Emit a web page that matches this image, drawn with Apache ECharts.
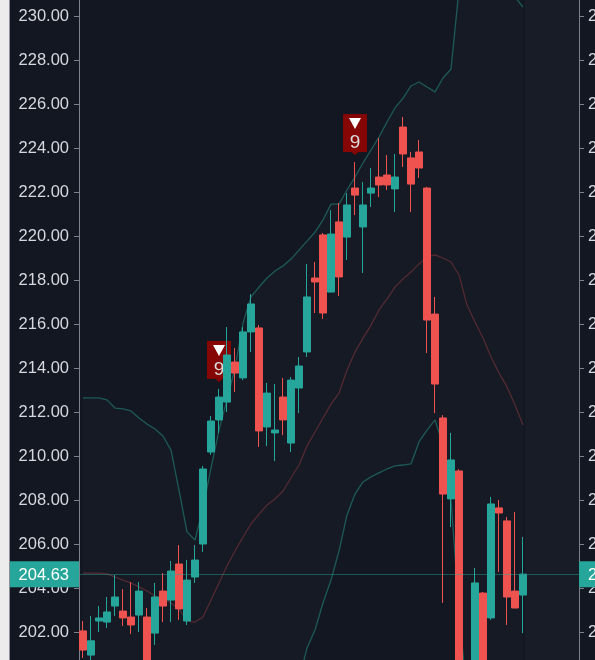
<!DOCTYPE html>
<html><head><meta charset="utf-8">
<script src="https://cdn.jsdelivr.net/npm/echarts@6/dist/echarts.min.js"></script>
<style>html,body{margin:0;padding:0;background:#131722}#c{width:595px;height:660px}</style>
</head><body><div id="c"></div>
<script>
const openV  = [202.05,200.95,202.50,202.45,203.18,202.95,202.68,202.77,202.68,201.95,203.86,203.45,205.09,202.50,204.50,206.00,210.18,211.64,212.45,214.27,213.55,215.64,215.82,211.32,211.05,212.68,210.59,213.09,214.73,218.09,220.05,217.45,220.64,219.95,222.18,220.41,221.95,222.68,222.77,222.14,224.95,223.55,223.82,222.18,216.45,211.73,208.05,209.32,200.00,200.30,203.77,202.64,207.64,207.05,203.86,203.68];
const closeV = [201.18,201.60,202.64,202.91,203.59,202.64,202.32,203.86,200.40,203.59,203.18,204.77,203.05,204.36,205.27,209.41,211.59,212.68,214.59,213.77,215.64,216.91,211.14,212.86,211.18,211.64,213.45,214.09,217.23,217.91,216.50,220.09,218.14,221.41,221.86,221.41,222.18,222.32,222.32,222.68,223.73,222.36,223.09,216.18,213.27,208.27,209.82,200.00,199.00,204.23,200.20,207.82,207.41,203.59,203.09,204.63];
const lowV   = [200.82,200.50,202.00,202.18,202.73,202.27,201.91,202.00,200.00,201.41,202.45,202.45,202.55,202.32,204.23,205.64,210.05,211.05,212.00,212.91,213.45,214.73,210.41,210.45,209.77,210.95,210.18,211.95,214.50,216.50,216.23,217.45,217.27,218.91,220.95,218.32,221.32,221.77,222.09,221.09,223.14,221.09,222.64,214.68,211.95,203.32,206.77,199.50,198.00,200.00,199.80,202.55,204.73,202.32,203.09,201.95];
const highV  = [202.50,202.73,203.18,203.59,204.59,203.95,204.27,204.27,203.09,204.23,204.68,205.23,205.95,205.27,205.95,209.55,211.82,213.05,215.86,214.91,215.86,217.36,215.95,213.32,213.27,213.55,213.59,214.50,218.73,218.82,220.14,221.18,221.50,221.95,223.36,222.45,223.09,224.45,223.68,223.73,225.41,223.82,224.36,222.23,217.23,211.86,211.05,209.40,200.50,204.91,203.82,208.14,208.00,207.23,207.45,206.32];
const upperBand  = [212.64,212.64,212.64,212.55,212.18,212.14,212.05,211.73,211.45,211.23,210.91,210.27,208.45,206.55,206.18,207.64,209.45,211.18,212.55,214.00,216.05,217.23,217.68,218.09,218.41,218.64,218.95,219.36,219.77,220.18,220.73,221.45,221.45,222.09,222.68,223.32,223.91,224.50,225.18,225.82,226.27,226.82,227.00,226.77,226.55,227.18,227.59,231.20,234.70,234.70,234.20,233.50,232.50,231.30,230.86,230.41];
const middleBand = [204.68,204.68,204.68,204.64,204.50,204.36,204.23,204.05,203.86,203.64,203.50,203.32,203.05,202.50,202.45,202.68,203.45,204.23,205.00,205.68,206.32,206.91,207.36,207.77,208.05,208.41,209.00,209.59,210.45,211.09,211.73,212.36,212.86,213.91,214.73,215.36,215.95,216.64,217.14,217.68,218.05,218.36,218.73,219.05,219.14,219.00,218.82,218.23,216.86,216.09,215.36,214.50,213.77,213.14,212.32,211.41];
const lowerBand  = [196.72,196.72,196.72,196.73,196.82,196.58,196.41,196.46,196.40,196.23,196.27,196.59,197.87,198.36,198.72,197.72,197.45,197.28,197.45,197.36,196.59,196.59,197.04,197.45,197.69,198.18,199.05,199.82,201.27,202.09,203.32,204.36,205.68,207.32,208.27,208.82,209.05,209.23,209.41,209.55,209.59,209.64,210.64,211.18,211.64,210.50,208.00,203.00,199.00,197.50,196.50,195.50,195.50,195.00,193.78,192.41];
const markerIdx  = [17, 34];
const markerText = ['9', '9'];
const yMin = 200, yMax = 232, yStep = 2;

const FONT = "'Liberation Sans', Arial, sans-serif";
const UP = '#26a69a', DOWN = '#ef5350';
const idx = openV.map((_, i) => i);
const lastPrice = closeV[closeV.length - 1];

const chart = echarts.init(document.getElementById('c'), null, {renderer: 'canvas'});
const axisCommon = {
  type: 'value', min: yMin, max: yMax, interval: yStep,
  axisLine: {show: true, onZero: false, lineStyle: {color: '#7e818b', width: 1}},
  axisTick: {show: true, length: 5, lineStyle: {color: '#7e818b'}},
  splitLine: {show: false},
  axisLabel: {color: '#d6d8de', fontSize: 16.5, fontFamily: FONT, margin: 9, formatter: v => v.toFixed(2)}
};
chart.setOption({
  backgroundColor: '#131722',
  animation: false,
  grid: {left: 79, right: 16, top: -28, height: 704, containLabel: false, outerBoundsMode: 'none'},
  xAxis: {type: 'value', min: -0.5, max: 62, show: false, splitLine: {show: false}},
  yAxis: [Object.assign({position: 'left'}, axisCommon, {axisLabel: Object.assign({}, axisCommon.axisLabel, {margin: 10})}),
          Object.assign({position: 'right'}, axisCommon)],
  series: [
    {
      type: 'custom', name: 'bandFill', z: 1, silent: true,
      data: [0],
      renderItem: (params, api) => {
        const pts = idx.map(i => api.coord([i, upperBand[i]]))
          .concat(idx.slice().reverse().map(i => api.coord([i, lowerBand[i]])));
        return {type: 'polygon', shape: {points: pts}, style: {fill: 'rgba(255,255,255,0.016)'}};
      }
    },
    {type: 'line', name: 'upper', z: 2, symbol: 'none', data: idx.map(i => [i, upperBand[i]]),
     lineStyle: {color: '#1d5a58', width: 1.3}},
    {type: 'line', name: 'lower', z: 2, symbol: 'none', data: idx.map(i => [i, lowerBand[i]]),
     lineStyle: {color: '#1d5a58', width: 1.3}},
    {type: 'line', name: 'middle', z: 2, symbol: 'none', data: idx.map(i => [i, middleBand[i]]),
     lineStyle: {color: 'rgba(239,83,80,0.30)', width: 1.2},
     markLine: {silent: true, symbol: 'none', label: {show: false},
       lineStyle: {color: 'rgba(38,166,154,0.45)', width: 1, type: 'solid'},
       data: [{yAxis: lastPrice}]}},
    {
      type: 'custom', name: 'markers', z: 3, silent: true,
      data: markerIdx.map(i => [i, highV[i]]),
      renderItem: (params, api) => {
        const p = api.coord([api.value(0), api.value(1)]);
        const cx = p[0], tip = p[1] - 7, bw = 24, bh = 38, by = tip - 3 - bh;
        const fill = '#860606';
        return {type: 'group', children: [
          {type: 'rect', shape: {x: cx - bw / 2, y: by, width: bw, height: bh}, style: {fill}},
          {type: 'polygon', shape: {points: [[cx - 3.5, by + bh], [cx + 3.5, by + bh], [cx, tip]]}, style: {fill}},
          {type: 'polygon', shape: {points: [[cx - 6, by + 4], [cx + 6, by + 4], [cx, by + 15]]}, style: {fill: '#ffffff'}},
          {type: 'text', style: {text: markerText[params.dataIndex], x: cx, y: by + 29, align: 'center',
            verticalAlign: 'middle', fill: '#dcdcdc', font: '19px ' + FONT}}
        ]};
      }
    },
    {
      type: 'candlestick', name: 'price', z: 4,
      barWidth: 7,
      encode: {x: 0, y: [1, 2, 3, 4]},
      data: idx.map(i => [i, openV[i], closeV[i], lowV[i], highV[i]]),
      itemStyle: {color: UP, color0: DOWN, borderColor: UP, borderColor0: DOWN, borderWidth: 1}
    }
  ]
});

function drawOverlay() {
  const py = chart.convertToPixel({yAxisIndex: 0}, lastPrice);
  const gl = chart.convertToPixel({xAxisIndex: 0}, -0.5);
  const gr = chart.convertToPixel({xAxisIndex: 0}, 62);
  const fx = chart.convertToPixel({xAxisIndex: 0}, 55.25);
  const label = lastPrice.toFixed(2);
  chart.setOption({graphic: [
    {type: 'rect', z: -10, silent: true, shape: {x: fx, y: 0, width: gr - fx, height: 660}, style: {fill: 'rgba(255,255,255,0.022)'}},
    {type: 'rect', z: 100, silent: true, shape: {x: 0, y: 0, width: 9, height: 660}, style: {fill: '#ececec'}},
    {type: 'rect', z: 100, silent: true, shape: {x: 9, y: 0, width: 1, height: 660}, style: {fill: '#8c8f98'}},
    {type: 'rect', z: 100, silent: true, shape: {x: 10, y: py - 13, width: gl - 10, height: 26}, style: {fill: UP}},
    {type: 'text', z: 101, silent: true, style: {text: label, x: gl - 10, y: py + 1, align: 'right', verticalAlign: 'middle', fill: '#ffffff', font: '16.5px ' + FONT}},
    {type: 'rect', z: 100, silent: true, shape: {x: gr, y: py - 13, width: 40, height: 26}, style: {fill: UP}},
    {type: 'text', z: 101, silent: true, style: {text: label, x: gr + 9, y: py + 1, align: 'left', verticalAlign: 'middle', fill: '#ffffff', font: '16.5px ' + FONT}}
  ]});
}
drawOverlay();
</script>
</body></html>
